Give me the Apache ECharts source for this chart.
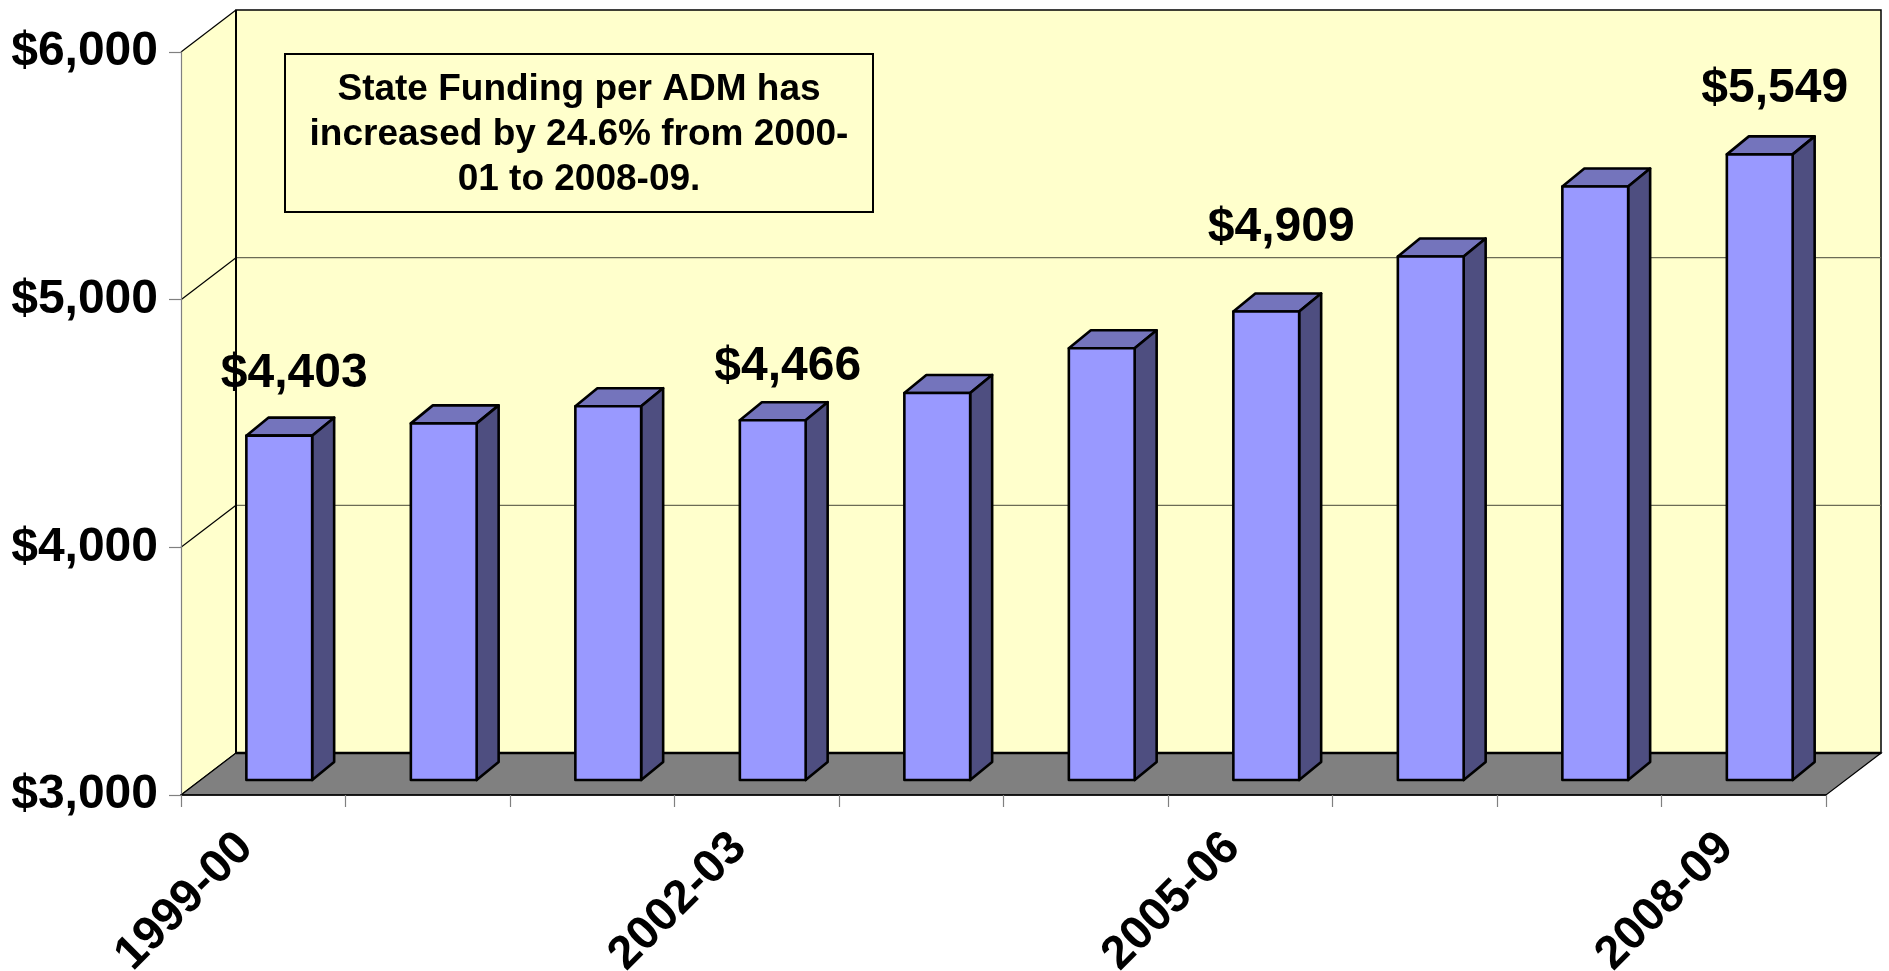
<!DOCTYPE html>
<html>
<head>
<meta charset="utf-8">
<title>State Funding per ADM</title>
<script src="https://cdn.jsdelivr.net/npm/echarts@6/dist/echarts.min.js"></script>
<style>
  html, body { margin: 0; padding: 0; background: #fff; }
  #chart { width: 1889px; height: 971px; }
</style>
</head>
<body>
<div id="chart"></div>
<script>
// school years on the category axis
var years = ['1999-00', '2000-01', '2001-02', '2002-03', '2003-04',
  '2004-05', '2005-06', '2006-07', '2007-08', '2008-09'];
// state funding per ADM (dollars)
var funding = [4403, 4453, 4523, 4466, 4577, 4759, 4909, 5133, 5418, 5549];
// bars that show their value
var labelled = [0, 3, 6, 9];
// value axis ticks
var yTicks = [3000, 4000, 5000, 6000];
var noteLines = ['State Funding per ADM has', 'increased by 24.6% from 2000-', '01 to 2008-09.'];

var FONT = '"Liberation Sans", Arial, sans-serif';
var WALL = '#FFFFCC';
var FLOOR = '#808080';
var DX = 55, DY = 42;          // depth of the 3d box
var BX = 22, BY = 18;          // depth of each bar
// how far each label sits above its bar (excel labels were moved by hand)
var labelLift = [46, 46, 46, 37, 46, 46, 68, 46, 46, 50];

function money(v) {
  return '$' + String(v).replace(/\B(?=(\d{3})+(?!\d))/g, ',');
}

function renderWalls(params, api) {
  var cs = params.coordSys;
  var x0 = cs.x, x1 = cs.x + cs.width;
  var yb = cs.y + cs.height, yt = cs.y;
  var kids = [];
  // back wall
  kids.push({ type: 'polygon', shape: { points: [[x0 + DX, yt - DY], [x1 + DX, yt - DY], [x1 + DX, yb - DY], [x0 + DX, yb - DY]] },
    style: { fill: WALL, stroke: '#000', lineWidth: 1.5 } });
  // side wall
  kids.push({ type: 'polygon', shape: { points: [[x0, yb], [x0 + DX, yb - DY], [x0 + DX, yt - DY], [x0, yt]] },
    style: { fill: WALL, stroke: null } });
  // grid lines on the back wall and the side wall
  yTicks.forEach(function (t) {
    var y = api.coord([0, t])[1];
    if (t !== yTicks[0] && t !== yTicks[yTicks.length - 1]) {
      kids.push({ type: 'line', shape: { x1: x0 + DX, y1: y - DY, x2: x1 + DX, y2: y - DY },
        style: { stroke: '#6b6b55', lineWidth: 1.2 } });
    }
    kids.push({ type: 'line', shape: { x1: x0, y1: y, x2: x0 + DX, y2: y - DY },
      style: { stroke: '#000', lineWidth: 1.2 } });
  });
  kids.push({ type: 'line', shape: { x1: x0 + DX, y1: yt - DY, x2: x0 + DX, y2: yb - DY },
    style: { stroke: '#000', lineWidth: 2 } });
  // floor
  kids.push({ type: 'polygon', shape: { points: [[x0, yb], [x0 + DX, yb - DY], [x1 + DX, yb - DY], [x1, yb]] },
    style: { fill: FLOOR, stroke: '#000', lineWidth: 1.2 } });
  kids.push({ type: 'line', shape: { x1: x0 + DX, y1: yb - DY, x2: x1 + DX, y2: yb - DY },
    style: { stroke: '#000', lineWidth: 2.5 } });
  return { type: 'group', children: kids };
}

function renderBar(params, api) {
  var i = api.value(0), v = api.value(1);
  var top = api.coord([i, v]);
  var base = api.coord([i, yTicks[0]]);
  var band = api.size([1, 0])[0];
  var w = band * 0.4;
  var cx = top[0] + 16;
  var yBot = base[1] - 15;
  var yTop = yBot - (base[1] - top[1]) * 0.991;
  var l = cx - w / 2, r = cx + w / 2;
  var edge = { stroke: '#000', lineWidth: 2.6, lineJoin: 'round' };
  var kids = [
    { type: 'polygon', shape: { points: [[l, yTop], [l + BX, yTop - BY], [r + BX, yTop - BY], [r, yTop]] },
      style: Object.assign({ fill: '#7474BC' }, edge) },
    { type: 'polygon', shape: { points: [[r, yTop], [r + BX, yTop - BY], [r + BX, yBot - BY], [r, yBot]] },
      style: Object.assign({ fill: '#4E4E80' }, edge) },
    { type: 'rect', shape: { x: l, y: yTop, width: w, height: yBot - yTop },
      style: Object.assign({ fill: '#9999FF' }, edge) }
  ];
  if (labelled.indexOf(i) >= 0) {
    kids.push({ type: 'text', style: {
      text: money(v), x: cx + 15, y: yTop - labelLift[i] - 16,
      align: 'center', verticalAlign: 'middle',
      fontSize: 48, fontWeight: 'bold', fontFamily: FONT, fill: '#000' } });
  }
  return { type: 'group', children: kids };
}

var chart = echarts.init(document.getElementById('chart'));
chart.setOption({
  animation: false,
  backgroundColor: '#fff',
  grid: { left: 181, right: 63, top: 52, bottom: 176, outerBoundsMode: 'none', containLabel: false },
  xAxis: {
    type: 'category',
    data: years,
    z: 5,
    axisLine: { show: true, lineStyle: { color: '#000', width: 1.5 } },
    axisTick: { show: true, length: 12, interval: 0, lineStyle: { color: '#808080', width: 1.2 } },
    axisLabel: {
      interval: 2, rotate: 45, margin: 28, padding: [0, 25, 0, 0],
      fontSize: 47, fontWeight: 'bold', fontFamily: FONT, color: '#000'
    },
    splitLine: { show: false }
  },
  yAxis: {
    type: 'value',
    min: 3000, max: 6000, interval: 1000,
    z: 5,
    axisLine: { show: true, lineStyle: { color: '#808080', width: 1.2 } },
    axisTick: { show: true, length: 12, lineStyle: { color: '#808080', width: 1.2 } },
    axisLabel: {
      margin: 23, formatter: money,
      fontSize: 48, fontWeight: 'bold', fontFamily: FONT, color: '#000'
    },
    splitLine: { show: false }
  },
  graphic: [
    { type: 'rect', z: 100, shape: { x: 285, y: 54, width: 588, height: 158 },
      style: { fill: WALL, stroke: '#000', lineWidth: 2 } },
    { type: 'text', z: 101, x: 579, y: 135, style: {
      text: noteLines.join('\n'),
      align: 'center', verticalAlign: 'middle', lineHeight: 45,
      fontSize: 37, fontWeight: 'bold', fontFamily: FONT, fill: '#000' } }
  ],
  series: [
    { type: 'custom', z: 1, silent: true, renderItem: renderWalls,
      data: [[0, yTicks[0]]], encode: { x: 0, y: 1 } },
    { type: 'custom', z: 3, renderItem: renderBar,
      data: funding.map(function (v, i) { return [i, v]; }), encode: { x: 0, y: 1 } }
  ]
});
</script>
</body>
</html>
